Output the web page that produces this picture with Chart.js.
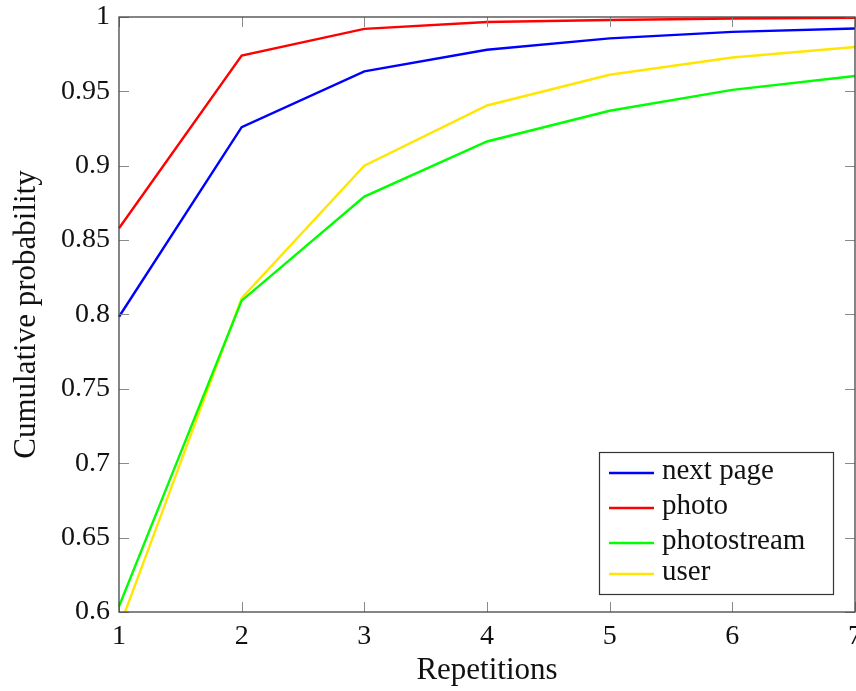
<!DOCTYPE html>
<html>
<head>
<meta charset="utf-8">
<script src="https://cdn.jsdelivr.net/npm/chart.js@4/dist/chart.umd.min.js"></script>
<style>
	html, body { margin: 0; padding: 0; background: #fff; }
	#wrap { width: 856px; height: 691px; }
</style>
</head>
<body>
<div id="wrap"><canvas id="chart" width="856" height="691"></canvas></div>
<script>
var repetitions = [ '1', '2', '3', '4', '5', '6', '7' ];
var nextPage    = [ 0.7985, 0.926, 0.9634, 0.978, 0.9856, 0.990, 0.9923 ];
var photo       = [ 0.858, 0.974, 0.992, 0.9966, 0.998, 0.999, 0.9995 ];
var photostream = [ 0.6038, 0.8093, 0.8793, 0.9163, 0.937, 0.951, 0.9603 ];
var user        = [ 0.589, 0.811, 0.900, 0.9405, 0.9612, 0.9728, 0.9798 ];

var FONT = "'Liberation Serif', 'DejaVu Serif', serif";

// Inward ticks on all four sides plus the frame, pgfplots style.
var frameTicks = {
	id: 'frameTicks',
	afterDatasetsDraw: function ( chart ) {
		var ctx = chart.ctx, a = chart.chartArea;
		var xs = chart.scales.x, ys = chart.scales.y;
		var len = 10;
		ctx.save();
		ctx.strokeStyle = '#8a8a8a';
		ctx.lineWidth = 1;
		ctx.beginPath();
		xs.ticks.forEach( function ( t, i ) {
			var px = Math.round( xs.getPixelForTick( i ) ) + 0.5;
			ctx.moveTo( px, a.bottom ); ctx.lineTo( px, a.bottom - len );
			ctx.moveTo( px, a.top );    ctx.lineTo( px, a.top + len );
		} );
		ys.ticks.forEach( function ( t ) {
			var py = Math.round( ys.getPixelForValue( t.value ) ) + 0.5;
			ctx.moveTo( a.left, py );  ctx.lineTo( a.left + len, py );
			ctx.moveTo( a.right, py ); ctx.lineTo( a.right - len, py );
		} );
		ctx.stroke();
		ctx.strokeStyle = '#444';
		ctx.lineWidth = 1.3;
		ctx.strokeRect( a.left, a.top, a.right - a.left, a.bottom - a.top );
		ctx.restore();
	},
};

// Legend box inside the plot, lower right.
var innerLegend = {
	id: 'innerLegend',
	afterDraw: function ( chart ) {
		var ctx = chart.ctx;
		var x0 = 599, y0 = 452, w = 234, h = 142;
		var rows = [ 473, 508, 543, 574 ];
		ctx.save();
		ctx.fillStyle = '#fff';
		ctx.fillRect( x0, y0, w, h );
		ctx.strokeStyle = '#333';
		ctx.lineWidth = 1.2;
		ctx.strokeRect( x0 + 0.5, y0 + 0.5, w, h );
		ctx.font = '29px ' + FONT;
		ctx.textBaseline = 'middle';
		chart.data.datasets.forEach( function ( ds, i ) {
			var y = rows[ i ];
			ctx.strokeStyle = ds.borderColor;
			ctx.lineWidth = 2.3;
			ctx.beginPath();
			ctx.moveTo( 609, y ); ctx.lineTo( 654, y );
			ctx.stroke();
			ctx.fillStyle = '#111';
			ctx.fillText( ds.label, 662, y - 2 );
		} );
		ctx.restore();
	},
};

function line( label, data, colour ) {
	return {
		label: label,
		data: data,
		borderColor: colour,
		backgroundColor: colour,
		borderWidth: 2.4,
		pointRadius: 0,
		tension: 0,
		fill: false,
	};
}

new Chart( document.getElementById( 'chart' ), {
	type: 'line',
	data: {
		labels: repetitions,
		datasets: [
			line( 'next page', nextPage, '#0000ff' ),
			line( 'photo', photo, '#ff0000' ),
			line( 'photostream', photostream, '#00ff00' ),
			line( 'user', user, '#ffe600' ),
		],
	},
	plugins: [ frameTicks, innerLegend ],
	options: {
		responsive: false,
		animation: false,
		layout: { padding: { top: 17, right: 1, left: 0, bottom: 0 } },
		plugins: {
			legend: { display: false },
			tooltip: { enabled: false },
		},
		scales: {
			x: {
				offset: false,
				grid: { display: false, drawTicks: false },
				border: { display: false },
				ticks: {
					color: '#111',
					padding: 8,
					maxRotation: 0,
					font: { family: FONT, size: 28 },
				},
				title: {
					display: true,
					text: 'Repetitions',
					color: '#111',
					padding: { top: 12, bottom: 2 },
					font: { family: FONT, size: 31 },
				},
				afterFit: function ( s ) {
					s.height = 79;
					s.paddingLeft = 0;
					s.paddingRight = 0;
				},
			},
			y: {
				min: 0.6,
				max: 1,
				grid: { display: false, drawTicks: false },
				border: { display: false },
				ticks: {
					stepSize: 0.05,
					color: '#111',
					padding: 9,
					font: { family: FONT, size: 28 },
					callback: function ( v ) { return String( Number( v.toFixed( 2 ) ) ); },
				},
				title: {
					display: true,
					text: 'Cumulative probability',
					color: '#111',
					padding: { top: 8, bottom: 0 },
					font: { family: FONT, size: 31 },
				},
				afterFit: function ( s ) {
					s.width = 119;
					s.paddingTop = 0;
					s.paddingBottom = 0;
				},
			},
		},
	},
} );
</script>
</body>
</html>
